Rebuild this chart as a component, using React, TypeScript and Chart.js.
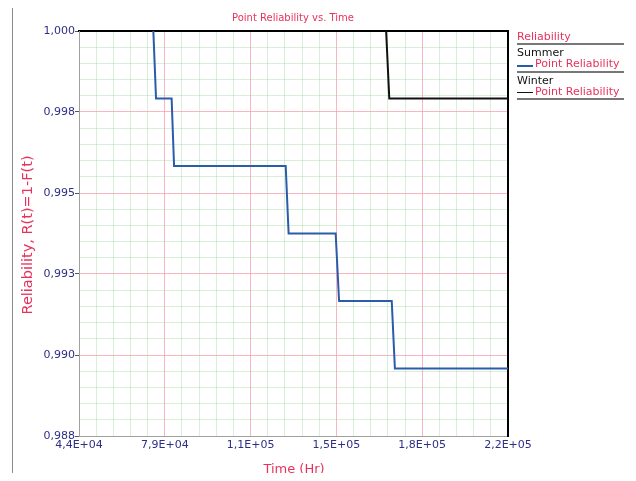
import React, { useEffect, useRef } from "react";
import { Chart, registerables } from "chart.js";
Chart.register(...registerables);

// ---- data ----
const summerTime = [74500, 75600, 82000, 83000, 128800, 130000, 149300, 150700, 172300, 173600, 220000];
const summerRel = [1.0, 0.998, 0.998, 0.996, 0.996, 0.994, 0.994, 0.992, 0.992, 0.99, 0.99];
const winterTime = [170000, 171300, 220000];
const winterRel = [1.0, 0.998, 0.998];

const xTicks = [44000, 79200, 114400, 149600, 184800, 220000];
const xTickLabels = ["4,4E+04", "7,9E+04", "1,1E+05", "1,5E+05", "1,8E+05", "2,2E+05"];
const yTicks = [0.988, 0.9904, 0.9928, 0.9952, 0.9976, 1.0];
const yTickLabels = ["0,988", "0,990", "0,993", "0,995", "0,998", "1,000"];
const MINOR_DIV = 5;

const FONT = "'DejaVu Sans', Verdana, sans-serif";
const RED_TEXT = "#e8325c";
const TICK_TEXT = "#2e2f86";
const MAJOR_GRID = "rgba(250,150,165,0.7)";
const MINOR_GRID = "rgba(150,210,150,0.35)";
const SUMMER_COLOR = "#2a5cab";
const WINTER_COLOR = "#111111";

function minorTicks(ticks: number[]) {
  const out: { value: number }[] = [];
  for (let i = 0; i < ticks.length - 1; i++) {
    for (let k = 0; k < MINOR_DIV; k++) {
      out.push({ value: ticks[i] + ((ticks[i + 1] - ticks[i]) * k) / MINOR_DIV });
    }
  }
  out.push({ value: ticks[ticks.length - 1] });
  return out;
}

export default function App() {
  const ref = useRef<HTMLCanvasElement>(null);
  useEffect(() => {
    if (!ref.current) return;
    const chart = new Chart(ref.current, {
      type: "line",
      data: {
        datasets: [
          {
            label: "Summer",
            data: summerTime.map((x, i) => ({ x, y: summerRel[i] })),
            borderColor: SUMMER_COLOR,
            borderWidth: 2,
            pointRadius: 0,
            tension: 0,
            xAxisID: "x",
            yAxisID: "y",
          },
          {
            label: "Winter",
            data: winterTime.map((x, i) => ({ x, y: winterRel[i] })),
            borderColor: WINTER_COLOR,
            borderWidth: 2,
            pointRadius: 0,
            tension: 0,
            xAxisID: "x",
            yAxisID: "y",
          },
        ],
      },
      options: {
        animation: false,
        responsive: false,
        layout: { padding: { left: 0, right: 120, top: 23, bottom: 0 } },
        plugins: { legend: { display: false }, title: { display: false }, tooltip: { enabled: false } },
        scales: {
          x: {
            type: "linear",
            position: "bottom",
            min: xTicks[0],
            max: xTicks[xTicks.length - 1],
            afterBuildTicks: (s: any) => {
              s.ticks = xTicks.map((v) => ({ value: v }));
            },
            afterFit: (s: any) => {
              s.height = 37;
            },
            ticks: {
              autoSkip: false,
              maxRotation: 0,
              padding: 3,
              color: TICK_TEXT,
              font: { family: FONT, size: 11 },
              callback: (_v: any, i: number) => xTickLabels[i],
            },
            grid: {
              color: (ctx: any) => (ctx.index === 0 || ctx.index === xTicks.length - 1 ? "transparent" : MAJOR_GRID),
              drawTicks: false,
              lineWidth: 1,
            },
            border: { color: "#a0a0a0", width: 1 },
          },
          x2: {
            type: "linear",
            position: "top",
            min: xTicks[0],
            max: xTicks[xTicks.length - 1],
            afterBuildTicks: (s: any) => {
              s.ticks = minorTicks(xTicks);
            },
            afterFit: (s: any) => {
              s.height = 0;
            },
            ticks: { display: false },
            grid: {
              color: (ctx: any) => (ctx.index % MINOR_DIV === 0 ? "transparent" : MINOR_GRID),
              drawTicks: false,
              z: -1,
            },
            border: { color: "#000", width: 2 },
          },
          y: {
            type: "linear",
            position: "left",
            min: yTicks[0],
            max: yTicks[yTicks.length - 1],
            afterBuildTicks: (s: any) => {
              s.ticks = yTicks.map((v) => ({ value: v }));
            },
            afterFit: (s: any) => {
              s.width = 71;
            },
            ticks: {
              autoSkip: false,
              padding: 0,
              color: TICK_TEXT,
              font: { family: FONT, size: 11 },
              callback: (_v: any, i: number) => yTickLabels[i],
            },
            grid: {
              color: (ctx: any) => (ctx.index === 0 || ctx.index === yTicks.length - 1 ? "transparent" : MAJOR_GRID),
              drawTicks: true,
              tickLength: 4,
              tickColor: "#555",
              lineWidth: 1,
            },
            border: { color: "#a0a0a0", width: 1 },
          },
          y2: {
            type: "linear",
            position: "right",
            min: yTicks[0],
            max: yTicks[yTicks.length - 1],
            afterBuildTicks: (s: any) => {
              s.ticks = minorTicks(yTicks);
            },
            afterFit: (s: any) => {
              s.width = 0;
            },
            ticks: { display: false },
            grid: {
              color: (ctx: any) => (ctx.index % MINOR_DIV === 0 ? "transparent" : MINOR_GRID),
              drawTicks: false,
              z: -1,
            },
            border: { color: "#000", width: 2 },
          },
        },
      } as any,
    });
    return () => chart.destroy();
  }, []);

  const txt = (extra: React.CSSProperties): React.CSSProperties => ({
    position: "absolute",
    fontFamily: FONT,
    whiteSpace: "nowrap",
    ...extra,
  });

  return (
    <div style={{ position: "relative", width: 620, height: 465 }}>
      <div style={{ position: "absolute", left: 4, top: -3, width: 1, height: 476, background: "#8a8a8a" }} />
      <div style={{ position: "absolute", left: 4, top: -3, width: 624, height: 1, background: "#e2e2e2" }} />
      <canvas ref={ref} width={620} height={465} style={{ display: "block" }} />
      <div style={txt({ left: 185, width: 200, top: 3, textAlign: "center", fontSize: 10, lineHeight: "14px", color: RED_TEXT })}>
        Point Reliability vs. Time
      </div>
      <div style={txt({ left: 186, width: 200, top: 453, textAlign: "center", fontSize: 13, lineHeight: "16px", color: RED_TEXT })}>
        Time (Hr)
      </div>
      <div
        style={txt({
          left: 19 - 150,
          top: 227 - 9,
          width: 300,
          textAlign: "center",
          fontSize: 14.5,
          lineHeight: "18px",
          color: RED_TEXT,
          transform: "rotate(-90deg)",
          transformOrigin: "150px 9px",
        })}
      >
        Reliability, R(t)=1-F(t)
      </div>
      {/* legend */}
      <div style={txt({ left: 509, top: 22, fontSize: 11, lineHeight: "14px", color: RED_TEXT })}>Reliability</div>
      <div style={{ position: "absolute", left: 509, top: 35, width: 107, height: 2, background: "#777" }} />
      <div style={txt({ left: 509, top: 38, fontSize: 11, lineHeight: "14px", color: "#111" })}>Summer</div>
      <div style={{ position: "absolute", left: 509, top: 57, width: 16, height: 2, background: SUMMER_COLOR }} />
      <div style={txt({ left: 527, top: 49, fontSize: 11, lineHeight: "14px", color: RED_TEXT })}>Point Reliability</div>
      <div style={{ position: "absolute", left: 509, top: 63, width: 107, height: 2, background: "#777" }} />
      <div style={txt({ left: 509, top: 66, fontSize: 11, lineHeight: "14px", color: "#111" })}>Winter</div>
      <div style={{ position: "absolute", left: 509, top: 84, width: 16, height: 1, background: WINTER_COLOR }} />
      <div style={txt({ left: 527, top: 77, fontSize: 11, lineHeight: "14px", color: RED_TEXT })}>Point Reliability</div>
      <div style={{ position: "absolute", left: 509, top: 90, width: 107, height: 2, background: "#777" }} />
    </div>
  );
}
